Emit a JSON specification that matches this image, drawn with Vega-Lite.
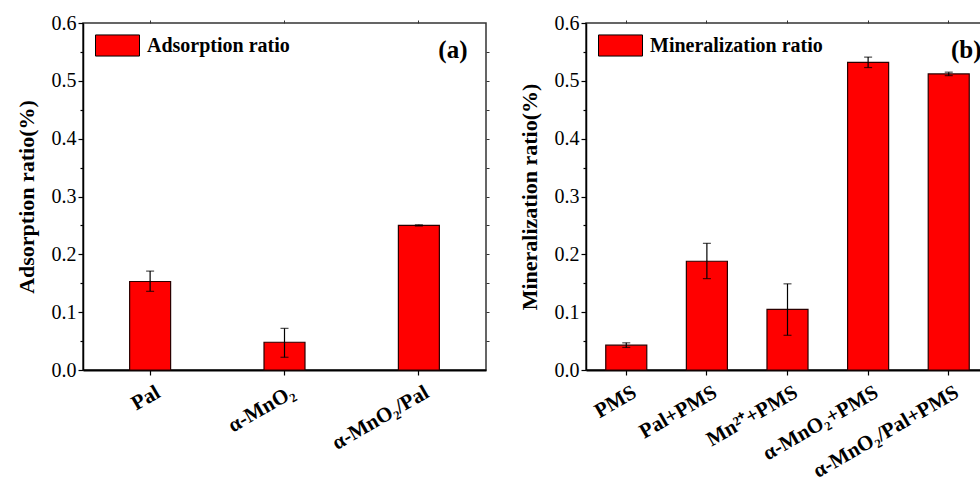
{
  "$schema": "https://vega.github.io/schema/vega-lite/v6.json",
  "padding": {"left": 14, "top": 12, "right": 0, "bottom": 0},
  "background": "white",
  "spacing": 26,
  "datasets": {
    "a": [
      {"sample": "Pal", "value": 0.153, "lo": 0.136, "hi": 0.171},
      {"sample": "α-MnO₂", "value": 0.048, "lo": 0.022, "hi": 0.072},
      {"sample": "α-MnO₂/Pal", "value": 0.250, "lo": 0.249, "hi": 0.251}
    ],
    "b": [
      {"sample": "PMS", "value": 0.043, "lo": 0.039, "hi": 0.047},
      {"sample": "Pal+PMS", "value": 0.188, "lo": 0.158, "hi": 0.219},
      {"sample": "Mn²⁺+PMS", "value": 0.105, "lo": 0.060, "hi": 0.149},
      {"sample": "α-MnO₂+PMS", "value": 0.532, "lo": 0.523, "hi": 0.541},
      {"sample": "α-MnO₂/Pal+PMS", "value": 0.512, "lo": 0.509, "hi": 0.515}
    ]
  },
  "resolve": {"scale": {"color": "independent"}, "legend": {"color": "independent"}},
  "hconcat": [
    {
      "width": 403,
      "height": 347,
      "data": {"name": "a"},
      "title": {"text": "(a)", "anchor": "end", "orient": "top", "offset": -50, "dx": -22, "fontSize": 25, "font": "Liberation Serif", "fontWeight": "bold", "color": "black"},
      "resolve": {"axis": {"x": "independent", "y": "independent"}},
      "layer": [
        {
          "mark": {"type": "bar", "stroke": "#2a0000", "strokeWidth": 1.2},
          "encoding": {
            "x": {
              "field": "sample", "type": "nominal", "sort": null,
              "scale": {"paddingInner": 0.695, "paddingOuter": 0.347},
              "axis": {"title": null, "orient": "bottom", "labelAngle": -30, "labelFont": "Liberation Serif", "labelFontWeight": "bold", "labelFontSize": 21, "labelColor": "black", "tickSize": 5, "tickColor": "black", "tickWidth": 1.2, "domainColor": "black", "domainWidth": 2, "labelPadding": 6, "labelOffset": 3}
            },
            "y": {
              "field": "value", "type": "quantitative", "title": "Adsorption ratio(%)",
              "scale": {"domain": [0, 0.6], "nice": false, "zero": true},
              "axis": {
                "orient": "left",
                "values": [0, 0.05, 0.1, 0.15, 0.2, 0.25, 0.3, 0.35, 0.4, 0.45, 0.5, 0.55, 0.6],
                "labelExpr": "round(datum.value*20)%2==1 ? '' : format(datum.value,'.1f')",
                "tickSize": {"condition": {"test": "round(datum.value*20)%2==1", "value": 3}, "value": 5},
                "grid": false, "labelFont": "Liberation Serif", "labelFontSize": 20, "labelColor": "black",
                "titleFont": "Liberation Serif", "titleFontSize": 22, "titleFontWeight": "bold", "titleColor": "black",
                "tickColor": "black", "tickWidth": 1.2, "domainColor": "black", "domainWidth": 1.5,
                "labelPadding": 2, "titlePadding": 13
              }
            },
            "color": {
              "datum": "Adsorption ratio", "type": "nominal",
              "scale": {"range": ["#ff0000"]},
              "legend": {"title": null, "orient": "none", "legendX": 12, "legendY": 0, "padding": 0, "symbolType": "M-1,-0.48H1V0.48H-1Z", "symbolSize": 1936, "symbolStrokeColor": "black", "symbolStrokeWidth": 1, "labelFont": "Liberation Serif", "labelFontWeight": "bold", "labelFontSize": 20, "labelColor": "black", "labelOffset": 7, "labelLimit": 400}
            }
          }
        },
        {
          "mark": {"type": "errorbar", "ticks": true, "size": 8, "thickness": 1.2, "color": "black"},
          "encoding": {
            "x": {
              "field": "sample", "type": "nominal", "sort": null,
              "axis": {"orient": "top", "title": null, "labels": false, "domain": false, "tickSize": 3, "tickColor": "#333333", "tickWidth": 1}
            },
            "y": {
              "field": "lo", "type": "quantitative", "title": null,
              "axis": {"orient": "right", "labels": false, "domain": false, "grid": false, "values": [0.05, 0.1, 0.15, 0.2, 0.25, 0.3, 0.35, 0.4, 0.45, 0.5, 0.55], "tickSize": 3, "tickColor": "#333333", "tickWidth": 1}
            },
            "y2": {"field": "hi"}
          }
        }
      ]
    },
    {
      "width": 403,
      "height": 347,
      "data": {"name": "b"},
      "title": {"text": "(b)", "anchor": "end", "orient": "top", "offset": -50, "dx": -11, "fontSize": 25, "font": "Liberation Serif", "fontWeight": "bold", "color": "black"},
      "resolve": {"axis": {"x": "independent", "y": "independent"}},
      "layer": [
        {
          "mark": {"type": "bar", "stroke": "#2a0000", "strokeWidth": 1.2},
          "encoding": {
            "x": {
              "field": "sample", "type": "nominal", "sort": null,
              "scale": {"paddingInner": 0.491, "paddingOuter": 0.245},
              "axis": {"title": null, "orient": "bottom", "labelAngle": -30, "labelFont": "Liberation Serif", "labelFontWeight": "bold", "labelFontSize": 21, "labelColor": "black", "tickSize": 5, "tickColor": "black", "tickWidth": 1.2, "domainColor": "black", "domainWidth": 2, "labelPadding": 6, "labelOffset": 3}
            },
            "y": {
              "field": "value", "type": "quantitative", "title": "Mineralization ratio(%)",
              "scale": {"domain": [0, 0.6], "nice": false, "zero": true},
              "axis": {
                "orient": "left",
                "values": [0, 0.05, 0.1, 0.15, 0.2, 0.25, 0.3, 0.35, 0.4, 0.45, 0.5, 0.55, 0.6],
                "labelExpr": "round(datum.value*20)%2==1 ? '' : format(datum.value,'.1f')",
                "tickSize": {"condition": {"test": "round(datum.value*20)%2==1", "value": 3}, "value": 5},
                "grid": false, "labelFont": "Liberation Serif", "labelFontSize": 20, "labelColor": "black",
                "titleFont": "Liberation Serif", "titleFontSize": 22, "titleFontWeight": "bold", "titleColor": "black",
                "tickColor": "black", "tickWidth": 1.2, "domainColor": "black", "domainWidth": 1.5,
                "labelPadding": 2, "titlePadding": 13
              }
            },
            "color": {
              "datum": "Mineralization ratio", "type": "nominal",
              "scale": {"range": ["#ff0000"]},
              "legend": {"title": null, "orient": "none", "legendX": 12, "legendY": 0, "padding": 0, "symbolType": "M-1,-0.48H1V0.48H-1Z", "symbolSize": 1936, "symbolStrokeColor": "black", "symbolStrokeWidth": 1, "labelFont": "Liberation Serif", "labelFontWeight": "bold", "labelFontSize": 20, "labelColor": "black", "labelOffset": 7, "labelLimit": 400}
            }
          }
        },
        {
          "mark": {"type": "errorbar", "ticks": true, "size": 8, "thickness": 1.2, "color": "black"},
          "encoding": {
            "x": {
              "field": "sample", "type": "nominal", "sort": null,
              "axis": {"orient": "top", "title": null, "labels": false, "domain": false, "tickSize": 3, "tickColor": "#333333", "tickWidth": 1}
            },
            "y": {
              "field": "lo", "type": "quantitative", "title": null,
              "axis": {"orient": "right", "labels": false, "domain": false, "grid": false, "values": [0.05, 0.1, 0.15, 0.2, 0.25, 0.3, 0.35, 0.4, 0.45, 0.5, 0.55], "tickSize": 3, "tickColor": "#333333", "tickWidth": 1}
            },
            "y2": {"field": "hi"}
          }
        }
      ]
    }
  ],
  "config": {
    "view": {"stroke": "#333333", "strokeWidth": 1.5},
    "font": "Liberation Serif"
  }
}
